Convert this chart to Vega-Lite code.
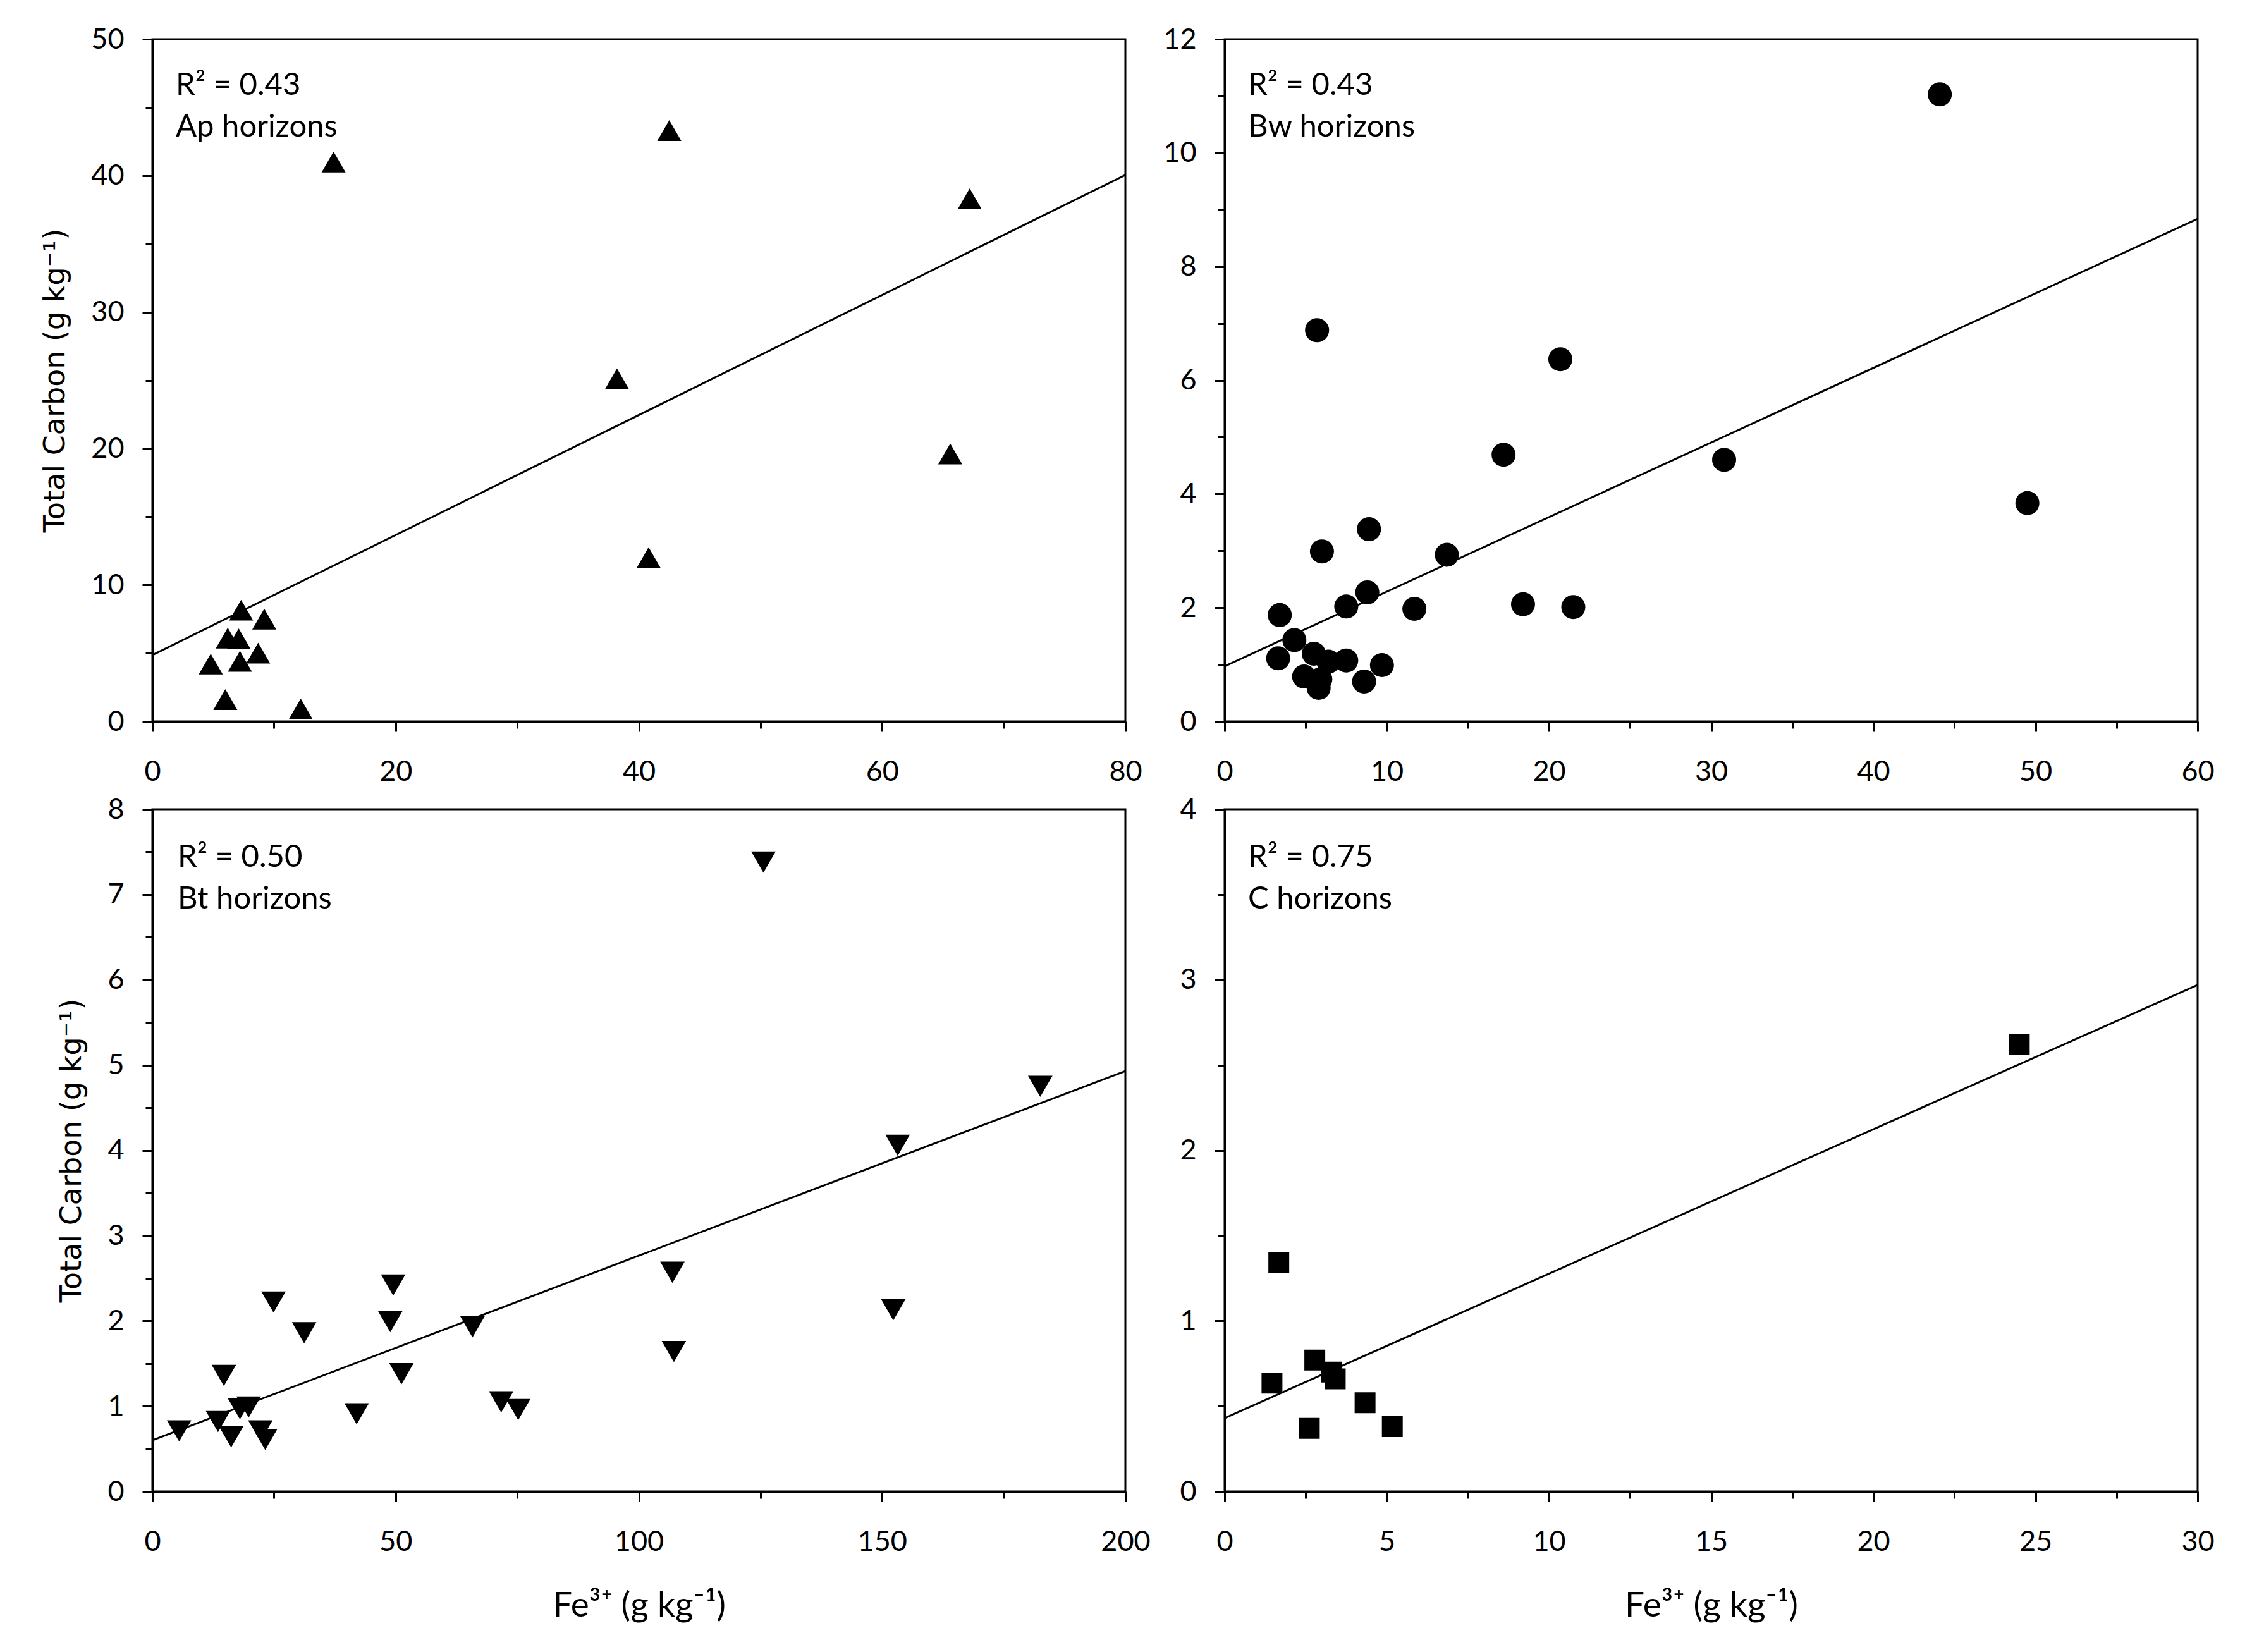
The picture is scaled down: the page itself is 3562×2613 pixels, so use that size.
{
  "$schema": "https://vega.github.io/schema/vega-lite/v6.json",
  "background": "white",
  "padding": {"left": 63, "top": 38, "right": 10, "bottom": 10},
  "bounds": "flush",
  "spacing": {"row": 139, "column": 157},
  "columns": 2,
  "config": {
    "view": {"stroke": "black", "strokeWidth": 3},
    "axis": {
      "grid": false,
      "domainColor": "black",
      "domainWidth": 3,
      "tickColor": "black",
      "tickWidth": 3,
      "tickSize": 16,
      "labelFont": "Lato",
      "labelFontSize": 45,
      "labelColor": "black",
      "titleColor": "black",
      "titleFontWeight": "normal"
    },
    "axisX": {"labelPadding": 41, "titleFont": "Lato", "titleFontSize": 55, "titlePadding": 52, "labelFlush": false},
    "axisY": {"labelPadding": 29, "titleFont": "DejaVu Sans", "titleFontSize": 46, "titlePadding": 32, "labelFlush": false}
  },
  "datasets": {
    "pts": [
      {"panel": "Ap", "fe": 14.9, "tc": 41.0},
      {"panel": "Ap", "fe": 42.5, "tc": 43.3},
      {"panel": "Ap", "fe": 67.2, "tc": 38.3},
      {"panel": "Ap", "fe": 38.2, "tc": 25.1},
      {"panel": "Ap", "fe": 65.6, "tc": 19.6},
      {"panel": "Ap", "fe": 40.8, "tc": 12.0},
      {"panel": "Ap", "fe": 7.3, "tc": 8.15},
      {"panel": "Ap", "fe": 9.2, "tc": 7.5},
      {"panel": "Ap", "fe": 6.2, "tc": 6.1},
      {"panel": "Ap", "fe": 7.1, "tc": 6.05},
      {"panel": "Ap", "fe": 8.7, "tc": 5.0},
      {"panel": "Ap", "fe": 4.8, "tc": 4.2},
      {"panel": "Ap", "fe": 7.2, "tc": 4.4},
      {"panel": "Ap", "fe": 6.0, "tc": 1.6},
      {"panel": "Ap", "fe": 12.2, "tc": 0.9},
      {"panel": "Bw", "fe": 44.1, "tc": 11.03},
      {"panel": "Bw", "fe": 5.7, "tc": 6.88},
      {"panel": "Bw", "fe": 20.7, "tc": 6.37},
      {"panel": "Bw", "fe": 17.2, "tc": 4.69},
      {"panel": "Bw", "fe": 30.8, "tc": 4.6},
      {"panel": "Bw", "fe": 49.5, "tc": 3.84},
      {"panel": "Bw", "fe": 8.9, "tc": 3.38},
      {"panel": "Bw", "fe": 6.0, "tc": 2.99},
      {"panel": "Bw", "fe": 13.7, "tc": 2.93},
      {"panel": "Bw", "fe": 8.8, "tc": 2.27},
      {"panel": "Bw", "fe": 7.5, "tc": 2.02},
      {"panel": "Bw", "fe": 11.7, "tc": 1.98},
      {"panel": "Bw", "fe": 18.4, "tc": 2.06},
      {"panel": "Bw", "fe": 21.5, "tc": 2.01},
      {"panel": "Bw", "fe": 3.4, "tc": 1.87},
      {"panel": "Bw", "fe": 4.3, "tc": 1.43},
      {"panel": "Bw", "fe": 3.3, "tc": 1.11},
      {"panel": "Bw", "fe": 5.5, "tc": 1.19},
      {"panel": "Bw", "fe": 6.4, "tc": 1.05},
      {"panel": "Bw", "fe": 7.5, "tc": 1.07},
      {"panel": "Bw", "fe": 9.7, "tc": 0.99},
      {"panel": "Bw", "fe": 4.9, "tc": 0.79},
      {"panel": "Bw", "fe": 5.9, "tc": 0.74},
      {"panel": "Bw", "fe": 5.8, "tc": 0.59},
      {"panel": "Bw", "fe": 8.6, "tc": 0.7},
      {"panel": "Bt", "fe": 125.6, "tc": 7.38},
      {"panel": "Bt", "fe": 182.5, "tc": 4.75},
      {"panel": "Bt", "fe": 153.2, "tc": 4.06},
      {"panel": "Bt", "fe": 106.9, "tc": 2.57},
      {"panel": "Bt", "fe": 152.3, "tc": 2.13},
      {"panel": "Bt", "fe": 107.2, "tc": 1.64},
      {"panel": "Bt", "fe": 49.5, "tc": 2.42},
      {"panel": "Bt", "fe": 48.9, "tc": 1.99},
      {"panel": "Bt", "fe": 24.9, "tc": 2.22},
      {"panel": "Bt", "fe": 31.2, "tc": 1.86},
      {"panel": "Bt", "fe": 65.8, "tc": 1.93},
      {"panel": "Bt", "fe": 51.2, "tc": 1.38},
      {"panel": "Bt", "fe": 14.7, "tc": 1.36},
      {"panel": "Bt", "fe": 42.0, "tc": 0.91},
      {"panel": "Bt", "fe": 71.7, "tc": 1.05},
      {"panel": "Bt", "fe": 75.2, "tc": 0.96},
      {"panel": "Bt", "fe": 18.0, "tc": 0.97},
      {"panel": "Bt", "fe": 19.8, "tc": 0.99},
      {"panel": "Bt", "fe": 13.5, "tc": 0.82},
      {"panel": "Bt", "fe": 16.2, "tc": 0.64},
      {"panel": "Bt", "fe": 5.5, "tc": 0.71},
      {"panel": "Bt", "fe": 22.2, "tc": 0.71},
      {"panel": "Bt", "fe": 23.2, "tc": 0.61},
      {"panel": "C", "fe": 1.67, "tc": 1.34},
      {"panel": "C", "fe": 24.5, "tc": 2.62},
      {"panel": "C", "fe": 1.46, "tc": 0.635},
      {"panel": "C", "fe": 2.78, "tc": 0.77},
      {"panel": "C", "fe": 3.29, "tc": 0.7},
      {"panel": "C", "fe": 3.41, "tc": 0.66},
      {"panel": "C", "fe": 4.33, "tc": 0.52},
      {"panel": "C", "fe": 2.61, "tc": 0.37},
      {"panel": "C", "fe": 5.17, "tc": 0.38}
    ],
    "fit": [
      {"panel": "Ap", "fe": 0, "tc": 4.86},
      {"panel": "Ap", "fe": 80, "tc": 40.05},
      {"panel": "Bw", "fe": 0, "tc": 0.97},
      {"panel": "Bw", "fe": 60, "tc": 8.84},
      {"panel": "Bt", "fe": 0, "tc": 0.6},
      {"panel": "Bt", "fe": 200, "tc": 4.93},
      {"panel": "C", "fe": 0, "tc": 0.43},
      {"panel": "C", "fe": 30, "tc": 2.97}
    ],
    "lab": [
      {"panel": "Ap", "txt": "R² = 0.43\nAp horizons"},
      {"panel": "Bw", "txt": "R² = 0.43\nBw horizons"},
      {"panel": "Bt", "txt": "R² = 0.50\nBt horizons"},
      {"panel": "C", "txt": "R² = 0.75\nC horizons"}
    ]
  },
  "concat": [
    {
      "width": 1539, "height": 1079,
      "resolve": {"axis": {"x": "independent", "y": "independent"}},
      "layer": [
        {
          "data": {"name": "pts"},
          "transform": [{"filter": "datum.panel === 'Ap'"}],
          "mark": {"type": "point", "shape": "triangle-up", "filled": true, "size": 1450, "color": "black", "opacity": 1},
          "encoding": {
            "x": {"field": "fe", "type": "quantitative", "scale": {"domain": [0, 80], "nice": false}, "axis": {"orient": "bottom", "values": [0, 20, 40, 60, 80], "title": null}},
            "y": {"field": "tc", "type": "quantitative", "scale": {"domain": [0, 50], "nice": false}, "axis": {"orient": "left", "values": [0, 10, 20, 30, 40, 50], "title": "Total Carbon (g kg⁻¹)"}}
          }
        },
        {
          "data": {"name": "fit"},
          "transform": [{"filter": "datum.panel === 'Ap'"}],
          "mark": {"type": "line", "color": "black", "strokeWidth": 3},
          "encoding": {
            "x": {"field": "fe", "type": "quantitative", "scale": {"domain": [0, 80], "nice": false}, "axis": {"orient": "bottom", "values": [10, 30, 50, 70], "labels": false, "domain": false, "tickSize": 11, "title": null}},
            "y": {"field": "tc", "type": "quantitative", "scale": {"domain": [0, 50], "nice": false}, "axis": {"orient": "left", "values": [5, 15, 25, 35, 45], "labels": false, "domain": false, "tickSize": 11, "title": null}}
          }
        },
        {
          "data": {"name": "lab"},
          "transform": [{"filter": "datum.panel === 'Ap'"}],
          "mark": {"type": "text", "align": "left", "baseline": "alphabetic", "dx": 37, "dy": 88, "font": "Lato", "fontSize": 49, "lineBreak": "\n", "lineHeight": 66, "color": "black"},
          "encoding": {
            "x": {"datum": 0, "type": "quantitative", "axis": null},
            "y": {"datum": 50, "type": "quantitative", "axis": null},
            "text": {"field": "txt"}
          }
        }
      ]
    },
    {
      "width": 1539, "height": 1079,
      "resolve": {"axis": {"x": "independent", "y": "independent"}},
      "layer": [
        {
          "data": {"name": "pts"},
          "transform": [{"filter": "datum.panel === 'Bw'"}],
          "mark": {"type": "point", "shape": "circle", "filled": true, "size": 1444, "color": "black", "opacity": 1},
          "encoding": {
            "x": {"field": "fe", "type": "quantitative", "scale": {"domain": [0, 60], "nice": false}, "axis": {"orient": "bottom", "values": [0, 10, 20, 30, 40, 50, 60], "title": null}},
            "y": {"field": "tc", "type": "quantitative", "scale": {"domain": [0, 12], "nice": false}, "axis": {"orient": "left", "values": [0, 2, 4, 6, 8, 10, 12], "title": null}}
          }
        },
        {
          "data": {"name": "fit"},
          "transform": [{"filter": "datum.panel === 'Bw'"}],
          "mark": {"type": "line", "color": "black", "strokeWidth": 3},
          "encoding": {
            "x": {"field": "fe", "type": "quantitative", "scale": {"domain": [0, 60], "nice": false}, "axis": {"orient": "bottom", "values": [5, 15, 25, 35, 45, 55], "labels": false, "domain": false, "tickSize": 11, "title": null}},
            "y": {"field": "tc", "type": "quantitative", "scale": {"domain": [0, 12], "nice": false}, "axis": {"orient": "left", "values": [1, 3, 5, 7, 9, 11], "labels": false, "domain": false, "tickSize": 11, "title": null}}
          }
        },
        {
          "data": {"name": "lab"},
          "transform": [{"filter": "datum.panel === 'Bw'"}],
          "mark": {"type": "text", "align": "left", "baseline": "alphabetic", "dx": 37, "dy": 88, "font": "Lato", "fontSize": 49, "lineBreak": "\n", "lineHeight": 66, "color": "black"},
          "encoding": {
            "x": {"datum": 0, "type": "quantitative", "axis": null},
            "y": {"datum": 12, "type": "quantitative", "axis": null},
            "text": {"field": "txt"}
          }
        }
      ]
    },
    {
      "width": 1539, "height": 1079,
      "resolve": {"axis": {"x": "independent", "y": "independent"}},
      "layer": [
        {
          "data": {"name": "pts"},
          "transform": [{"filter": "datum.panel === 'Bt'"}],
          "mark": {"type": "point", "shape": "triangle-down", "filled": true, "size": 1500, "color": "black", "opacity": 1},
          "encoding": {
            "x": {"field": "fe", "type": "quantitative", "scale": {"domain": [0, 200], "nice": false}, "axis": {"orient": "bottom", "values": [0, 50, 100, 150, 200], "title": "Fe³⁺ (g kg⁻¹)"}},
            "y": {"field": "tc", "type": "quantitative", "scale": {"domain": [0, 8], "nice": false}, "axis": {"orient": "left", "values": [0, 1, 2, 3, 4, 5, 6, 7, 8], "title": "Total Carbon (g kg⁻¹)"}}
          }
        },
        {
          "data": {"name": "fit"},
          "transform": [{"filter": "datum.panel === 'Bt'"}],
          "mark": {"type": "line", "color": "black", "strokeWidth": 3},
          "encoding": {
            "x": {"field": "fe", "type": "quantitative", "scale": {"domain": [0, 200], "nice": false}, "axis": {"orient": "bottom", "values": [25, 75, 125, 175], "labels": false, "domain": false, "tickSize": 11, "title": null}},
            "y": {"field": "tc", "type": "quantitative", "scale": {"domain": [0, 8], "nice": false}, "axis": {"orient": "left", "values": [0.5, 1.5, 2.5, 3.5, 4.5, 5.5, 6.5, 7.5], "labels": false, "domain": false, "tickSize": 11, "title": null}}
          }
        },
        {
          "data": {"name": "lab"},
          "transform": [{"filter": "datum.panel === 'Bt'"}],
          "mark": {"type": "text", "align": "left", "baseline": "alphabetic", "dx": 40, "dy": 91, "font": "Lato", "fontSize": 49, "lineBreak": "\n", "lineHeight": 66, "color": "black"},
          "encoding": {
            "x": {"datum": 0, "type": "quantitative", "axis": null},
            "y": {"datum": 8, "type": "quantitative", "axis": null},
            "text": {"field": "txt"}
          }
        }
      ]
    },
    {
      "width": 1539, "height": 1079,
      "resolve": {"axis": {"x": "independent", "y": "independent"}},
      "layer": [
        {
          "data": {"name": "pts"},
          "transform": [{"filter": "datum.panel === 'C'"}],
          "mark": {"type": "point", "shape": "square", "filled": true, "size": 1089, "color": "black", "opacity": 1},
          "encoding": {
            "x": {"field": "fe", "type": "quantitative", "scale": {"domain": [0, 30], "nice": false}, "axis": {"orient": "bottom", "values": [0, 5, 10, 15, 20, 25, 30], "title": "Fe³⁺ (g kg⁻¹)"}},
            "y": {"field": "tc", "type": "quantitative", "scale": {"domain": [0, 4], "nice": false}, "axis": {"orient": "left", "values": [0, 1, 2, 3, 4], "title": null}}
          }
        },
        {
          "data": {"name": "fit"},
          "transform": [{"filter": "datum.panel === 'C'"}],
          "mark": {"type": "line", "color": "black", "strokeWidth": 3},
          "encoding": {
            "x": {"field": "fe", "type": "quantitative", "scale": {"domain": [0, 30], "nice": false}, "axis": {"orient": "bottom", "values": [2.5, 7.5, 12.5, 17.5, 22.5, 27.5], "labels": false, "domain": false, "tickSize": 11, "title": null}},
            "y": {"field": "tc", "type": "quantitative", "scale": {"domain": [0, 4], "nice": false}, "axis": {"orient": "left", "values": [0.5, 1.5, 2.5, 3.5], "labels": false, "domain": false, "tickSize": 11, "title": null}}
          }
        },
        {
          "data": {"name": "lab"},
          "transform": [{"filter": "datum.panel === 'C'"}],
          "mark": {"type": "text", "align": "left", "baseline": "alphabetic", "dx": 37, "dy": 91, "font": "Lato", "fontSize": 49, "lineBreak": "\n", "lineHeight": 66, "color": "black"},
          "encoding": {
            "x": {"datum": 0, "type": "quantitative", "axis": null},
            "y": {"datum": 4, "type": "quantitative", "axis": null},
            "text": {"field": "txt"}
          }
        }
      ]
    }
  ]
}
